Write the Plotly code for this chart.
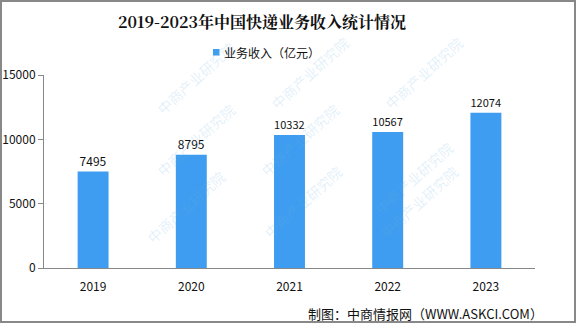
import plotly.graph_objects as go

years = ["2019", "2020", "2021", "2022", "2023"]
revenue = [7495, 8795, 10332, 10567, 12074]
y_ticks = [0, 5000, 10000, 15000]
series_name = "业务收入（亿元）"
title_text = "2019-2023年中国快递业务收入统计情况"
source_text = "制图：中商情报网（WWW.ASKCI.COM）"
watermark = "中商产业研究院"

W, H = 576, 323
ml, mr, mt, mb = 44, 41, 75, 55
pw, ph = W - ml - mr, H - mt - mb
BAR = "#3E9DF0"
FONT = "Noto Sans CJK SC"


def px(x):
    return (x - ml) / pw


def py(y):
    return (H - mb - y) / ph


fig = go.Figure()
fig.add_trace(go.Bar(
    x=years, y=revenue, name=series_name,
    marker=dict(color=BAR, line=dict(width=0)),
    text=[str(v) for v in revenue], textposition="outside",
    textfont=dict(family=FONT, size=12, color="#111"),
    cliponaxis=False, showlegend=False,
))

fig.update_layout(
    width=W, height=H,
    margin=dict(l=ml, r=mr, t=mt, b=mb, autoexpand=False),
    paper_bgcolor="white", plot_bgcolor="white",
    bargap=0.685,
    showlegend=False,
    title=dict(text="<b>" + title_text + "</b>", x=262 / W, xanchor="center",
               y=1 - 22 / H, yanchor="middle",
               font=dict(family="Noto Serif CJK SC, Noto Sans CJK SC", size=16, color="#111")),
    xaxis=dict(showline=True, linecolor="#888", linewidth=1, ticks="",
               ticklabelstandoff=8,
               tickfont=dict(family=FONT, size=12, color="#111")),
    yaxis=dict(range=[0, 15000], tickvals=y_ticks, ticktext=[str(v) for v in y_ticks],
               showline=True, linecolor="#888", linewidth=1,
               ticks="outside", ticklen=5, tickcolor="#888",
               showgrid=False, zeroline=False,
               tickfont=dict(family=FONT, size=12, color="#111")),
    font=dict(family=FONT),
)

# watermarks (faint, rotated)
for (wx, wy) in [(150, 35), (310, 30), (470, 30),
                 (150, 140), (300, 140), (460, 135),
                 (140, 250), (303, 245), (465, 245)]:
    fig.add_annotation(text=watermark, xref="paper", yref="paper",
                       x=px(wx), y=py(wy), showarrow=False, textangle=-42,
                       font=dict(family=FONT, size=14, color="rgba(110,175,225,0.2)"))

# custom legend
fig.add_shape(type="rect", xref="paper", yref="paper",
              x0=px(213), x1=px(219.5), y0=py(55.5), y1=py(49),
              line=dict(width=0), fillcolor=BAR)
fig.add_annotation(text=series_name, xref="paper", yref="paper",
                   x=px(222), xanchor="left", y=py(52.5), yanchor="middle",
                   showarrow=False,
                   font=dict(family=FONT, size=12, color="#111"))

# outer border
fig.add_shape(type="rect", xref="paper", yref="paper",
              x0=px(1), x1=px(W - 1), y0=py(H - 1), y1=py(1),
              line=dict(color="#888", width=2), fillcolor="rgba(0,0,0,0)")

fig.add_annotation(text=source_text, xref="paper", yref="paper",
                   x=px(545), xanchor="right",
                   y=py(313), yanchor="middle",
                   showarrow=False,
                   font=dict(family=FONT, size=13, color="#111"))

fig.write_html("out.html")
